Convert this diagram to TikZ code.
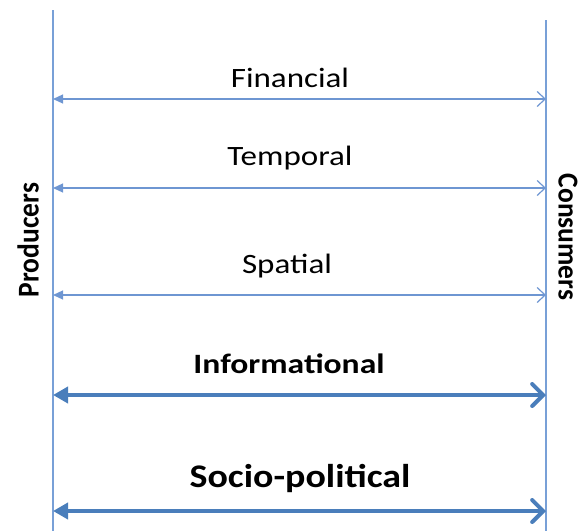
\documentclass[tikz,border=0pt]{standalone}
\usepackage{fontspec}
\setmainfont{Carlito}
\usetikzlibrary{arrows.meta}
\definecolor{axisblue}{RGB}{120,160,215}
\definecolor{thinblue}{RGB}{110,150,210}
\definecolor{thickblue}{RGB}{74,126,187}
\tikzset{
  axisline/.style={draw=axisblue, line width=1.6pt},
  thinarrow/.style={draw=thinblue, line width=1.2pt,
    {Triangle[length=10pt,width=9pt]}-{Straight Barb[length=8pt,width=15pt,line width=1.2pt]}},
  thickarrow/.style={draw=thickblue, line width=4pt,
    {Triangle[length=15pt,width=16pt]}-{Straight Barb[length=11pt,width=22pt,line width=4pt,line cap=round]}},
  lbl/.style={font=\fontsize{28}{32}\selectfont, inner sep=0pt},
  blbl/.style={font=\fontsize{28}{32}\selectfont\bfseries, inner sep=0pt},
  side/.style={font=\fontsize{27.5}{32}\selectfont\bfseries, inner sep=0pt}
}
\begin{document}
\begin{tikzpicture}[x=1pt,y=-1pt]
\useasboundingbox (0,0) rectangle (581,531);
\coordinate (Ltop) at (53,10);
\coordinate (Lbot) at (53,531);
\coordinate (Rtop) at (546,20);
\coordinate (Rbot) at (546,531);
\draw[axisline] (Ltop) -- (Lbot);
\draw[axisline] (Rtop) -- (Rbot);
% arrow ends
\coordinate (fL) at (53,99);  \coordinate (fR) at (546,99);
\coordinate (tL) at (53,188); \coordinate (tR) at (546,188);
\coordinate (sL) at (53,295); \coordinate (sR) at (546,295);
\coordinate (iL) at (53,395); \coordinate (iR) at (546,395);
\coordinate (pL) at (53,511); \coordinate (pR) at (546,511);
\draw[thinarrow] (fL) -- (fR);
\draw[thinarrow] (tL) -- (tR);
\draw[thinarrow] (sL) -- (sR);
\draw[thickarrow] (iL) -- (iR);
\draw[thickarrow] (pL) -- (pR);
% labels
\node[lbl] (fin) at (290,78) {\scalebox{1.18}[1]{Financial}};
\node[lbl] (tem) at (290,158) {\scalebox{1.18}[1]{Temporal}};
\node[lbl] (spa) at (287,266) {\scalebox{1.18}[1]{Spatial}};
\node[blbl] (inf) at (289,364) {\scalebox{1.2}[1]{Informational}};
\node[blbl, font=\fontsize{33}{38}\selectfont\bfseries] (soc) at (300,478) {\scalebox{1.15}[1]{Socio-political}};
\node[side, rotate=90] (prod) at (28,240) {\scalebox{1}[1.1]{Producers}};
\node[side, rotate=-90] (cons) at (568,237) {\scalebox{1}[1.05]{Consumers}};
\end{tikzpicture}
\end{document}
